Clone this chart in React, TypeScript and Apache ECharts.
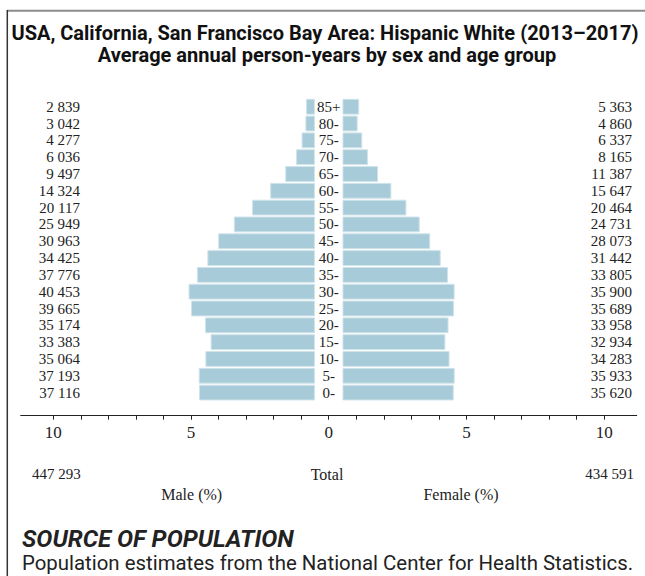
import React, { useEffect, useRef } from "react";
import * as echarts from "echarts";

// Age groups, bottom (youngest) to top (oldest)
const ageGroups = ["0-", "5-", "10-", "15-", "20-", "25-", "30-", "35-", "40-", "45-", "50-", "55-", "60-", "65-", "70-", "75-", "80-", "85+"];
const malePersonYears = [37116, 37193, 35064, 33383, 35174, 39665, 40453, 37776, 34425, 30963, 25949, 20117, 14324, 9497, 6036, 4277, 3042, 2839];
const femalePersonYears = [35620, 35933, 34283, 32934, 33958, 35689, 35900, 33805, 31442, 28073, 24731, 20464, 15647, 11387, 8165, 6337, 4860, 5363];
const tickValues = [-10, -9, -8, -7, -6, -5, -4, -3, -2, -1, 0, 1, 2, 3, 4, 5, 6, 7, 8, 9, 10];
const tickLabelValues = [-10, -5, 0, 5, 10];

const titleLine1 = "USA, California, San Francisco Bay Area: Hispanic White (2013\u20132017)";
const titleLine2 = "Average annual person-years by sex and age group";

const fmt = (n: number) => String(n).replace(/\B(?=(\d{3})+(?!\d))/g, " ");

const SERIF = "'Liberation Serif', 'Times New Roman', serif";
const SANS = "Roboto, 'Noto Sans', Arial, sans-serif";

export default function App() {
  const ref = useRef<HTMLDivElement>(null);
  useEffect(() => {
    if (!ref.current) return;
    const chart = echarts.init(ref.current, undefined, { renderer: "svg" });
    const maleTotal = malePersonYears.reduce((a, b) => a + b, 0);
    const femaleTotal = femalePersonYears.reduce((a, b) => a + b, 0);
    const total = maleTotal + femaleTotal;
    const malePct = malePersonYears.map((v) => -(v / total) * 100);
    const femalePct = femalePersonYears.map((v) => (v / total) * 100);
    const gap = 0.5;
    const barColor = "#A7CBD8";
    const labelStyle = { fontFamily: SERIF, fontSize: 15, color: "#222", interval: 0 };
    const gridLeft = 20.7;
    const gridRight = 8.3;
    const centerX = gridLeft + (645 - gridLeft - gridRight) / 2;

    chart.setOption({
      animation: false,
      backgroundColor: "#fff",
      grid: { left: gridLeft, right: gridRight, top: 98.3, bottom: 175 },
      xAxis: {
        type: "value",
        min: -11.18,
        max: 11.18,
        offset: 14.7,
        splitLine: { show: false },
        axisLine: { show: true, lineStyle: { color: "#222", width: 1 } },
        axisTick: { show: true, length: 4, lineStyle: { color: "#222" }, customValues: tickValues },
        axisLabel: {
          customValues: tickLabelValues,
          formatter: (v: number) => String(Math.abs(v)),
          fontFamily: SERIF,
          fontSize: 17,
          color: "#222",
          margin: 8,
        },
      },
      yAxis: [
        {
          type: "category",
          position: "left",
          data: ageGroups,
          axisLine: { show: false, onZero: false },
          axisTick: { show: false },
          axisLabel: { ...labelStyle, align: "center", margin: -(centerX - gridLeft) },
        },
        {
          type: "category",
          position: "left",
          data: malePersonYears.map(fmt),
          axisLine: { show: false, onZero: false },
          axisTick: { show: false },
          axisLabel: { ...labelStyle, align: "right", margin: -59.3 },
        },
        {
          type: "category",
          position: "right",
          data: femalePersonYears.map(fmt),
          axisLine: { show: false, onZero: false },
          axisTick: { show: false },
          axisLabel: { ...labelStyle, align: "right", margin: -4.7 },
        },
      ],
      series: [
        {
          type: "bar",
          stack: "pop",
          data: ageGroups.map(() => -gap),
          itemStyle: { color: "rgba(0,0,0,0)" },
          silent: true,
          barCategoryGap: "6%",
        },
        {
          type: "bar",
          stack: "pop",
          name: "Male",
          data: malePct,
          itemStyle: { color: barColor, borderColor: "#CFE3EA", borderWidth: 1 },
          barCategoryGap: "6%",
        },
        {
          type: "bar",
          stack: "pop",
          data: ageGroups.map(() => gap),
          itemStyle: { color: "rgba(0,0,0,0)" },
          silent: true,
          barCategoryGap: "6%",
        },
        {
          type: "bar",
          stack: "pop",
          name: "Female",
          data: femalePct,
          itemStyle: { color: barColor, borderColor: "#CFE3EA", borderWidth: 1 },
          barCategoryGap: "6%",
        },
      ],
      graphic: [
        { type: "line", shape: { x1: 7, y1: 10.7, x2: 645, y2: 10.7 }, style: { stroke: "#8c8c8c", lineWidth: 2 } },
        { type: "line", shape: { x1: 7.3, y1: 10, x2: 7.3, y2: 576 }, style: { stroke: "#333", lineWidth: 1.5 } },
        { type: "text", x: 325, y: 33, style: { text: titleLine1, font: `bold 20px ${SANS}`, fill: "#111", textAlign: "center", textVerticalAlign: "middle" } },
        { type: "text", x: 327, y: 55, style: { text: titleLine2, font: `bold 20px ${SANS}`, fill: "#111", textAlign: "center", textVerticalAlign: "middle" } },
        { type: "text", x: 32, y: 474, style: { text: fmt(maleTotal), font: `15px ${SERIF}`, fill: "#222", textAlign: "left", textVerticalAlign: "middle" } },
        { type: "text", x: 327, y: 474, style: { text: "Total", font: `16px ${SERIF}`, fill: "#222", textAlign: "center", textVerticalAlign: "middle" } },
        { type: "text", x: 634, y: 474, style: { text: fmt(femaleTotal), font: `15px ${SERIF}`, fill: "#222", textAlign: "right", textVerticalAlign: "middle" } },
        { type: "text", x: 191.7, y: 494, style: { text: "Male (%)", font: `16px ${SERIF}`, fill: "#222", textAlign: "center", textVerticalAlign: "middle" } },
        { type: "text", x: 461, y: 494, style: { text: "Female (%)", font: `16px ${SERIF}`, fill: "#222", textAlign: "center", textVerticalAlign: "middle" } },
        { type: "text", x: 22, y: 539, style: { text: "SOURCE OF POPULATION", font: `italic bold 24px ${SANS}`, fill: "#222", textAlign: "left", textVerticalAlign: "middle" } },
        { type: "text", x: 22, y: 563, style: { text: "Population estimates from the National Center for Health Statistics.", font: `20.4px ${SANS}`, fill: "#222", textAlign: "left", textVerticalAlign: "middle" } },
      ],
    });
    return () => chart.dispose();
  }, []);
  return <div ref={ref} style={{ position: "absolute", left: 0, top: 0, width: 645, height: 576 }} />;
}
